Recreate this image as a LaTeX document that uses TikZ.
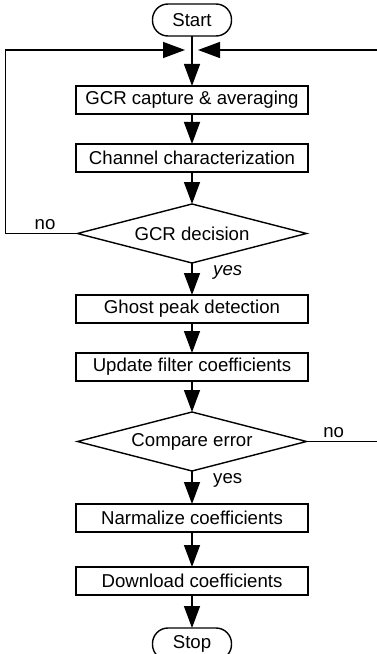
\documentclass[tikz,border=0pt]{standalone}
\usepackage{fontspec}
\setmainfont{Liberation Sans}
\usetikzlibrary{positioning,arrows.meta,shapes.geometric}

\begin{document}
\begin{tikzpicture}[
  font=\fontsize{10.6}{12.5}\selectfont,
  line width=0.8pt,
  box/.style={draw, align=center, inner sep=0pt, outer sep=0pt, minimum width=46.4mm, minimum height=5.6mm},
  term/.style={draw, rounded corners=3.1mm, inner sep=0pt, outer sep=0pt, minimum width=15.8mm, minimum height=6.4mm},
  dec/.style={draw, diamond, aspect=3.9, inner sep=0pt, outer sep=0pt, minimum width=45.8mm, minimum height=11.8mm},
  ar/.style={-{Triangle[length=4.4mm, width=3.2mm]}},
  lbl/.style={inner sep=2pt}
]
\useasboundingbox (0,0) rectangle (75.2mm,-130.8mm);
\node[term] (start) at (38.4mm,-4mm) {Start};
\node[box, below=10mm of start] (capture) {GCR capture \& averaging};
\node[box, below=6mm of capture] (chan) {Channel characterization};
\node[dec, below=6.4mm of chan] (gcrdec) {GCR decision};
\node[box, below=6.4mm of gcrdec] (ghost) {Ghost peak detection};
\node[box, below=6mm of ghost] (update) {Update filter coefficients};
\node[dec, below=6.2mm of update] (cmperr) {Compare error};
\node[box, below=6.6mm of cmperr] (norm) {Narmalize coefficients};
\node[box, below=7mm of norm] (down) {Download coefficients};
\node[term, below=6.6mm of down] (stop) {Stop};
% loop entry point
\coordinate (merge) at ([yshift=-2.8mm]start.south);
\coordinate (jl) at ([xshift=-1.4mm]merge);
\coordinate (jr) at ([xshift=1.2mm]merge);
\draw[ar] (start) -- (capture);
\draw[ar] (capture) -- (chan);
\draw[ar] (chan) -- (gcrdec);
\draw[ar] (gcrdec) -- (ghost) node[lbl, pos=0.3, right=3.4mm]{\itshape yes};
\draw[ar] (ghost) -- (update);
\draw[ar] (update) -- (cmperr);
\draw[ar] (cmperr) -- (norm) node[lbl, pos=0.3, right=3.4mm]{yes};
\draw[ar] (norm) -- (down);
\draw[ar] (down) -- (stop);
\draw[ar] (gcrdec.west) -- ++(-14.4mm,0) node[lbl, pos=0.45, above]{no} |- (jl);
\draw[ar] (cmperr.east) -- ++(16mm,0) node[lbl, pos=0.34, above]{no} |- (jr);
\end{tikzpicture}
\end{document}
